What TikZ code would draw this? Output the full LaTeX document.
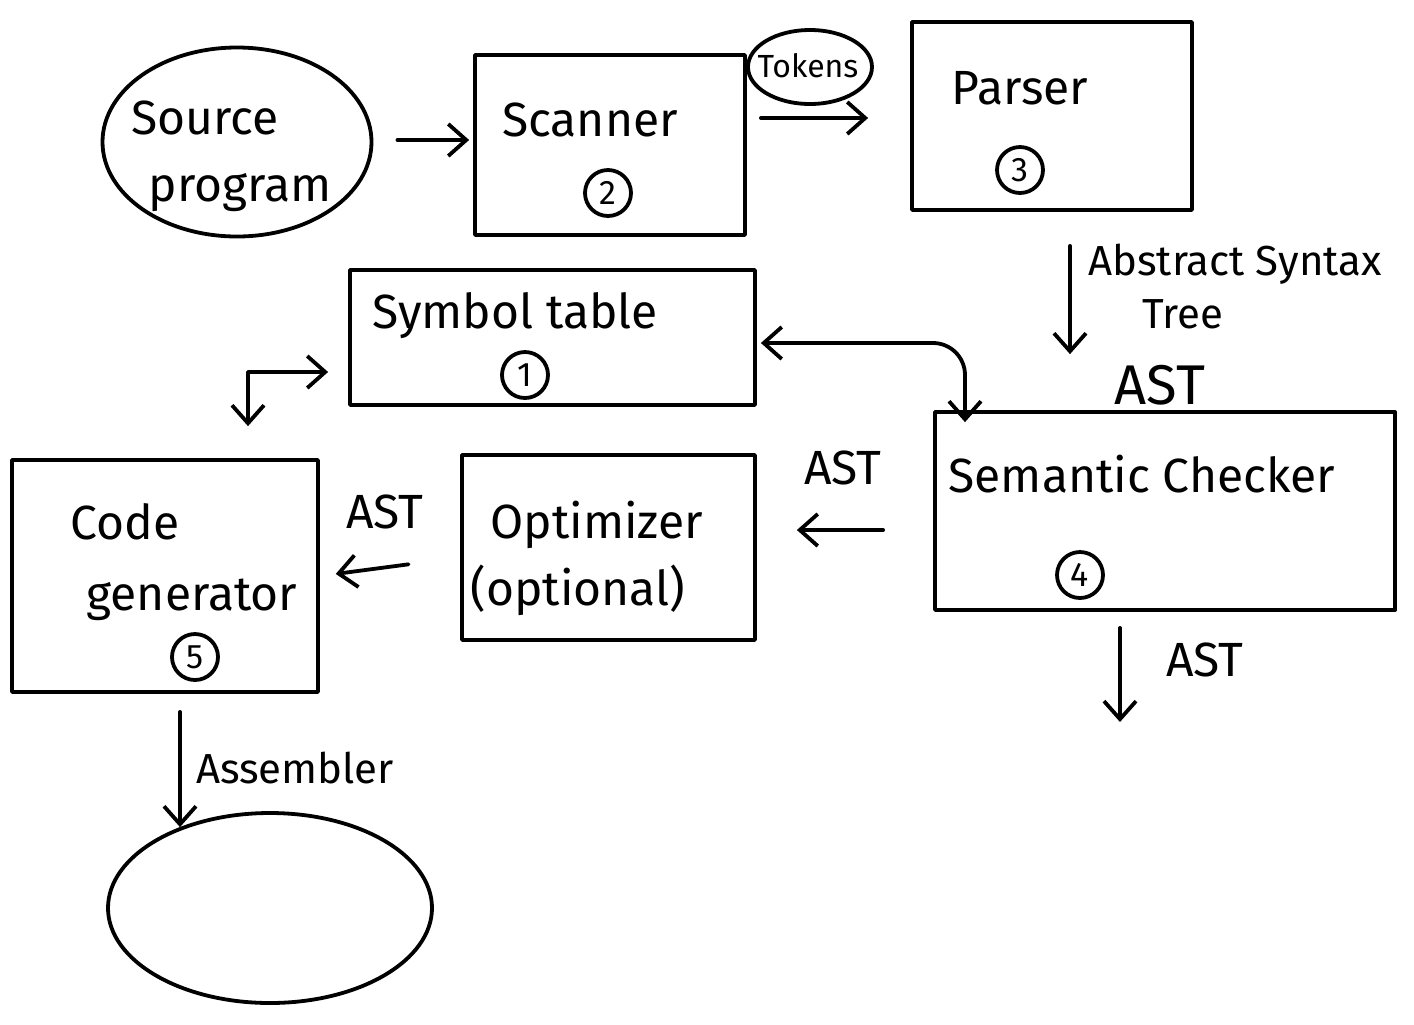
\documentclass[tikz,border=0pt]{standalone}
\usepackage{fontspec}
\setmainfont{Fira Sans}
\usetikzlibrary{arrows.meta,shapes.geometric}
\begin{document}
\begin{tikzpicture}[x=0.5pt,y=-0.5pt,
  ink/.style={line width=1.9pt, line cap=round, line join=round},
  stage/.style={ink, draw, rectangle, inner sep=0pt},
  blob/.style={ink, draw, ellipse, inner sep=0pt},
  lbl/.style={font=\fontsize{24}{28}\selectfont, inner sep=0pt},
  note/.style={font=\fontsize{21}{25}\selectfont, inner sep=0pt},
  num/.style={ink, draw, circle, minimum size=23pt, inner sep=0pt, font=\fontsize{17}{19}\selectfont},
  tip/.tip={Straight Barb[length=9pt,width=16pt,line width=1.9pt]},
  flow/.style={ink, -tip},
  both/.style={ink, tip-tip}
]
\useasboundingbox (0,0) rectangle (1414,1024);

% ---- stages ----
\node[blob, minimum width=134.5pt, minimum height=94.5pt] (src) at (237,142) {};
\node[lbl] (srct1) at (205,118) {Source};
\node[lbl] (srct2) at (240,193) {program};

\node[stage, minimum width=135pt, minimum height=90pt] (scanner) at (610,145) {};
\node[lbl] (scannert) at (590,120) {Scanner};
\node[num] (n2) at (608,193) {2};

\node[blob, minimum width=62pt, minimum height=37pt] (tokens) at (810,67) {};
\node[font=\fontsize{16}{18}\selectfont, inner sep=0pt] (tokenst) at (808,66) {Tokens};

\node[stage, minimum width=140pt, minimum height=94pt] (parser) at (1052,116) {};
\node[lbl] (parsert) at (1020,88) {Parser};
\node[num] (n3) at (1020,170) {3};

\node[stage, minimum width=202.5pt, minimum height=67.5pt] (symtab) at (552.5,337.5) {};
\node[lbl] (symtabt) at (515,316) {Symbol table};
\node[num] (n1) at (525,375) {1};

\node[stage, minimum width=230pt, minimum height=99pt] (semantic) at (1165,511) {};
\node[lbl] (semantict) at (1142,474) {Semantic Checker};
\node[num] (n4) at (1080,575) {4};

\node[stage, minimum width=146.5pt, minimum height=92.5pt] (optimizer) at (608.5,547.5) {};
\node[lbl] (optt1) at (597,525) {Optimizer};
\node[lbl] (optt2) at (578,590) {(optional)};

\node[stage, minimum width=153pt, minimum height=116pt] (codegen) at (165,576) {};
\node[lbl] (codet1) at (125,522) {Code};
\node[lbl] (codet2) at (192,600) {generator};
\node[num] (n5) at (195,657) {5};

\node[blob, minimum width=162pt, minimum height=95pt] (output) at (270,908) {};

% ---- connectors ----
\draw[flow, shorten <=12pt, shorten >=2pt] ([yshift=1pt]src.east) -- ([yshift=2.5pt]scanner.west);
\draw[flow, shorten <=7pt, shorten >=21pt] ([yshift=13.5pt]scanner.east) -- ([yshift=-1pt]parser.west);
\draw[flow, shorten <=17pt, shorten >=28pt] ([xshift=9pt]parser.south) -- ([xshift=-47.5pt]semantic.north);
\draw[both, rounded corners=16pt, shorten <=2pt, shorten >=-6pt] ([yshift=-2.75pt]symtab.east) -| ([xshift=-100pt]semantic.north);
\draw[both, shorten <=16pt, shorten >=10pt] ([xshift=41.5pt]codegen.north) |- ([yshift=-17.25pt]symtab.west);
\draw[flow, shorten <=25pt, shorten >=20pt] ([yshift=-9.5pt]semantic.west) -- ([yshift=8.75pt]optimizer.east);
\draw[flow, shorten <=26pt, shorten >=8pt] ([yshift=-5pt]optimizer.west) -- (codegen.east);
\coordinate (astout) at (1120,722);
\draw[flow, shorten <=8pt] ([xshift=-22.5pt]semantic.south) -- (astout);
\draw[flow, shorten <=9pt] ([xshift=7.5pt]codegen.south) -- ([xshift=-45pt,yshift=-8pt]output.north);

% ---- connector labels ----
\node[note] (abs1) at (1235,264) {Abstract Syntax};
\node[note] (abs2) at (1183,314) {Tree};
\node[font=\fontsize{28}{32}\selectfont, inner sep=0pt] (ast1) at (1160,385) {AST};
\node[lbl] (ast2) at (843,468) {AST};
\node[lbl] (ast3) at (385,512) {AST};
\node[lbl] (ast4) at (1205,660) {AST};
\node[note] (asm) at (295,768) {Assembler};
\end{tikzpicture}
\end{document}
